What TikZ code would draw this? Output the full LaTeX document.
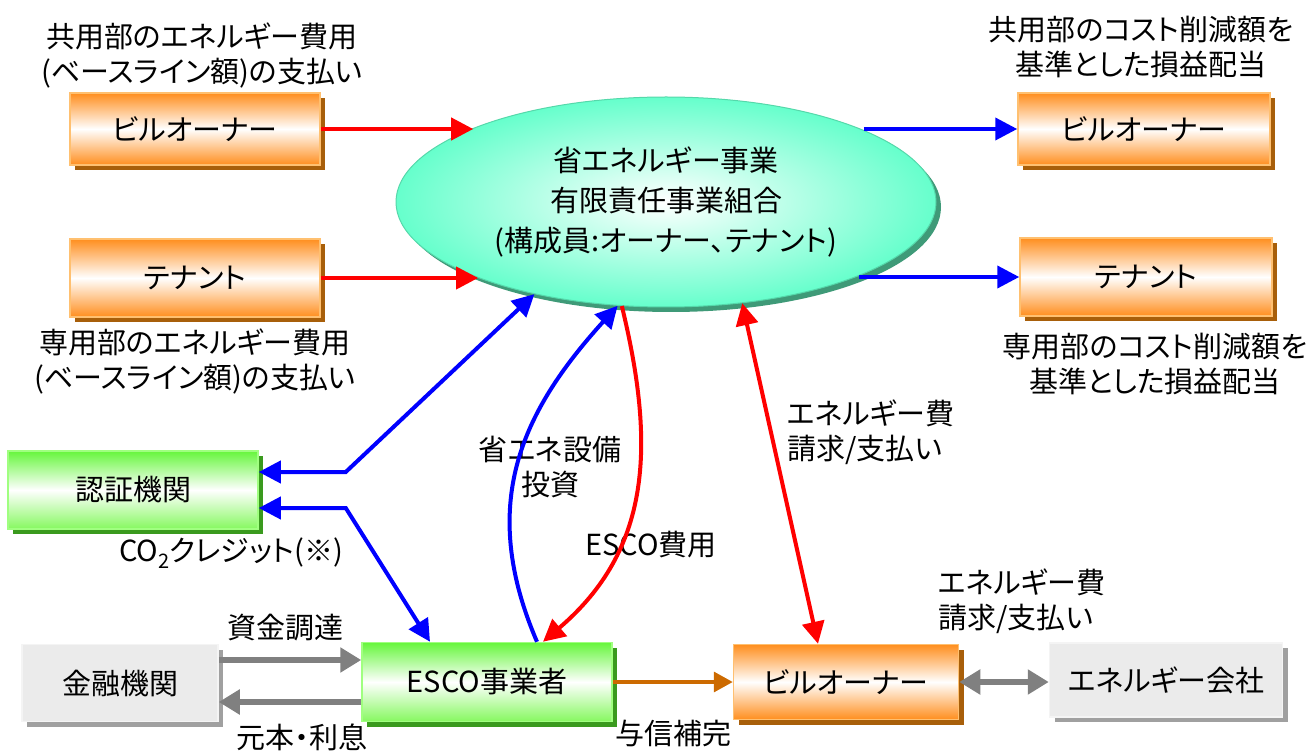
\documentclass[tikz,border=0pt]{standalone}
\usepackage{fontspec}
\setmainfont{Noto Sans CJK JP}[RawFeature=+palt]
\usetikzlibrary{shapes.geometric,arrows.meta,shadows}
\definecolor{orTop}{HTML}{FF8E1E}
\definecolor{orEdge}{HTML}{FFC070}
\definecolor{orShadow}{HTML}{A85F0A}
\definecolor{grTop}{HTML}{66F63C}
\definecolor{grBot}{HTML}{86F860}
\definecolor{grEdge}{HTML}{A0FF80}
\definecolor{grShadow}{HTML}{3A9A1E}
\definecolor{gyFill}{HTML}{EBEBEB}
\definecolor{gyEdge}{HTML}{F4F4F4}
\definecolor{gyShadow}{HTML}{A0A0A0}
\definecolor{aqua}{HTML}{66FFCC}
\definecolor{aquaEdge}{HTML}{55D8AA}
\definecolor{aquaShadow}{HTML}{3F9A78}
\definecolor{arrGray}{HTML}{808080}
\definecolor{arrOrange}{HTML}{CC6A00}
\tikzset{
  BigTip/.tip={Triangle[length=22pt,width=22pt]},
  GrTip/.tip={Triangle[length=21pt,width=24pt]},
  OrTip/.tip={Triangle[length=19pt,width=20pt]},
}
\begin{document}
\begin{tikzpicture}[x=1pt,y=-1pt,
  every node/.style={font=\fontsize{29}{35}\selectfont, inner sep=0pt},
  orbox/.style={rectangle, draw=orEdge, line width=1.5pt, top color=orTop, bottom color=orTop, middle color=white,
    drop shadow={shadow xshift=5pt,shadow yshift=-5pt,fill=orShadow,opacity=1}},
  grbox/.style={rectangle, draw=grEdge, line width=1.5pt, top color=grTop, bottom color=grBot, middle color=white,
    drop shadow={shadow xshift=5pt,shadow yshift=-5pt,fill=grShadow,opacity=1}},
  gybox/.style={rectangle, draw=gyEdge, line width=1.5pt, fill=gyFill,
    drop shadow={shadow xshift=5pt,shadow yshift=-5pt,fill=gyShadow,opacity=1}},
  ellbox/.style={ellipse, draw=aquaEdge, line width=1pt, inner color=white, outer color=aqua,
    drop shadow={shadow xshift=5pt,shadow yshift=-5pt,fill=aquaShadow,opacity=1}},
  lbl/.style={align=center},
  redline/.style={draw=red, line width=4pt},
  blueline/.style={draw=blue, line width=4pt},
  grayline/.style={draw=arrGray, line width=5.5pt},
  orline/.style={draw=arrOrange, line width=3.5pt},
]
\useasboundingbox (0,0) rectangle (1310,751);

% boxes
\node[orbox, minimum width=250, minimum height=72] (bo1) at (195,129) {ビルオーナー};
\node[orbox, minimum width=250, minimum height=78] (tn1) at (195,278) {テナント};
\node[orbox, minimum width=252, minimum height=72] (bo2) at (1144,129) {ビルオーナー};
\node[orbox, minimum width=252, minimum height=78] (tn2) at (1146,277) {テナント};
\node[ellbox, minimum width=540, minimum height=210, font=\fontsize{29}{40}\selectfont, align=center] (ell) at (666,202)
  {省エネルギー事業\\有限責任事業組合\\(構成員:オーナー、テナント)};
\node[grbox, minimum width=250, minimum height=78] (nk) at (133,490) {認証機関};
\node[gybox, minimum width=196, minimum height=77] (ky) at (120,683) {金融機関};
\node[grbox, minimum width=250, minimum height=79] (esco) at (487,682) {ESCO事業者};
\node[orbox, minimum width=225, minimum height=75] (bob) at (846,682) {ビルオーナー};
\node[gybox, minimum width=233, minimum height=74] (ec) at (1166,680) {エネルギー会社};

% labels
\node[lbl] (lt) at (202,55) {共用部のエネルギー費用\\(ベースライン額)の支払い};
\node[lbl] (lb) at (195,361) {専用部のエネルギー費用\\(ベースライン額)の支払い};
\node[lbl] (rt) at (1141,47) {共用部のコスト削減額を\\基準とした損益配当};
\node[lbl] (rb) at (1155,364) {専用部のコスト削減額を\\基準とした損益配当};
\node[align=left, anchor=west] (mid) at (787,432) {エネルギー費\\請求/支払い};
\node[align=left, anchor=west] (br) at (938,601) {エネルギー費\\請求/支払い};
\node[lbl] (inv) at (550,467) {省エネ設備\\投資};
\node (cost) at (651,545) {ESCO費用};
\node (co2) at (231,553) {CO\raisebox{-0.25em}{\fontsize{20}{20}\selectfont 2}クレジット(※)};
\node (shikin) at (285,628) {資金調達};
\node (gankin) at (302,737) {元本・利息};
\node (yoshin) at (673,733) {与信補完};

% connectors
\draw[redline,-{BigTip}] (bo1.east) -- (bo1.east -| ell.159.4);
\draw[redline,-{BigTip}] (tn1.east) -- (tn1.east -| ell.202.2);
\draw[blueline,-{BigTip}] (bo2.west -| ell.20.6) -- (bo2.west);
\draw[blueline,-{BigTip}] (tn2.west -| ell.-21.6) -- (tn2.west);

\draw[blueline,{BigTip}-{BigTip}] ([yshift=18pt]nk.east) -- ++(87,0) -- (ell.215);
\draw[blueline,{BigTip}-{BigTip}] ([yshift=-18pt]nk.east) -- ++(87,0) -- ([xshift=-57pt]esco.north);

\draw[blueline,-{BigTip}] ([xshift=50pt]esco.north) .. controls +(-59,-137) and +(-97,107) .. (ell.245);
\draw[redline,-{BigTip}] (ell.247) .. controls +(34,140) and +(108,-92) .. ([xshift=56pt]esco.north);
\draw[redline,{BigTip}-{BigTip}] (ell.-53) -- ([xshift=-28pt]bob.north);

\draw[orline,-{OrTip}] (esco.east) -- (bob.west);
\draw[grayline,-{GrTip}] ([yshift=23pt]ky.east) -- ([yshift=23pt]ky.east -| esco.west);
\draw[grayline,-{GrTip}] ([yshift=-20pt]esco.west) -- ([yshift=-20pt]esco.west -| ky.east);
\draw[grayline,{GrTip}-{GrTip}] (bob.east) -- (bob.east -| ec.west);
\end{tikzpicture}
\end{document}
